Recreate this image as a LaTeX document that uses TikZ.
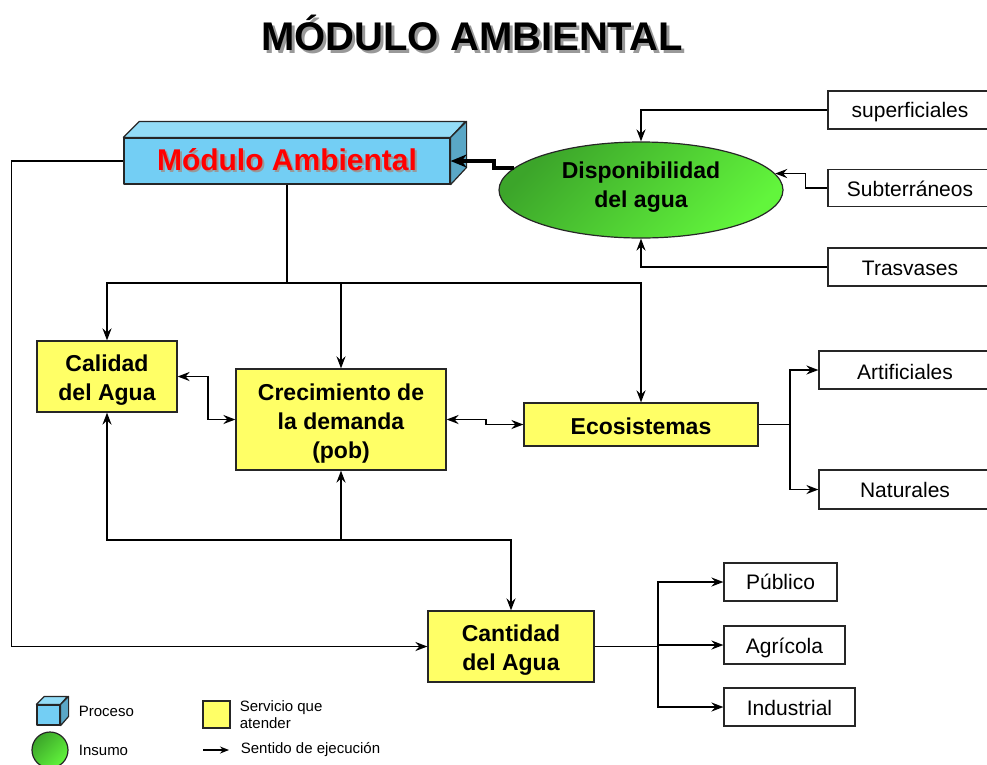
\documentclass[tikz,border=0pt]{standalone}
\usepackage{fontspec}
\setmainfont{Liberation Sans}
\usetikzlibrary{arrows.meta,shapes.geometric,calc}
\definecolor{yel}{HTML}{FFFF66}
\definecolor{bfront}{HTML}{73CEF4}
\definecolor{btop}{HTML}{93DCF7}
\definecolor{bside}{HTML}{5AA7C6}
\definecolor{gdark}{HTML}{3CA52A}
\definecolor{glight}{HTML}{62F53C}
\newcommand\shadowed[3]{\rlap{\kern#3\raisebox{-#3}{\color{black!40}#2}}{\color{#1}#2}}
\newcommand\shiftc[2]{\raisebox{#1}[\height][\depth]{\begin{tabular}{@{}c@{}}#2\end{tabular}}}
\begin{document}
\begin{tikzpicture}[x=1pt,y=-1pt,line width=1.8pt,
  ybox/.style={draw=black!85,fill=yel,line width=1.2pt,font=\bfseries\fontsize{23}{29}\selectfont,inner sep=0pt},
  wbox/.style={draw=black!85,fill=white,line width=1.2pt,font=\fontsize{21}{25}\selectfont,inner sep=0pt},
  tip/.tip={Stealth[length=12pt,width=9pt,inset=4pt]},
  bigtip/.tip={Stealth[length=16pt,width=13pt,inset=5pt]},
  arr/.style={-tip},
  darr/.style={tip-tip},
  face/.style={draw=black!85,line width=1.2pt,line join=round},
  legtext/.style={font=\fontsize{15}{17}\selectfont,anchor=west,align=left,inner sep=0pt}]
\useasboundingbox (0,0) rectangle (987,764);
% title
\node[font=\bfseries\fontsize{40}{48}\selectfont,anchor=base,inner sep=0pt] (title) at (472,50) {\shadowed{black}{MÓDULO AMBIENTAL}{3pt}};
% module box
\node[face,fill=bfront,minimum width=326pt,minimum height=46pt,inner sep=0pt,font=\bfseries\fontsize{30}{36}\selectfont] (mod) at (287,161) {\shadowed{red}{Módulo Ambiental}{2pt}};
\draw[face,fill=btop] (mod.north west) -- ++(16,-16) -- ++(326,0) -- (mod.north east) -- cycle;
\draw[face,fill=bside] (mod.north east) -- ++(16,-16) -- ++(0,46) -- (mod.south east) -- cycle;
% availability
\node[ellipse,draw=black!85,line width=1.2pt,top color=gdark,bottom color=glight,shading angle=45,minimum width=284pt,minimum height=96pt,inner sep=0pt,font=\bfseries\fontsize{23}{29}\selectfont] (dispo) at (641,190) {\shiftc{3pt}{Disponibilidad\\del agua}};
\node[wbox,minimum width=164pt,minimum height=38pt] (sup) at (910,110) {\shiftc{-2pt}{superficiales}};
\node[wbox,minimum width=164pt,minimum height=37pt] (sub) at (910,188) {\shiftc{-3.5pt}{Subterráneos}};
\node[wbox,minimum width=164pt,minimum height=38pt] (tra) at (910,267) {\shiftc{-3pt}{Trasvases}};
% services
\node[ybox,minimum width=140pt,minimum height=71pt] (cal) at (107,376.5) {\shiftc{-4pt}{Calidad\\del Agua}};
\node[ybox,minimum width=210pt,minimum height=101pt] (cre) at (341,419.5) {\shiftc{-4pt}{Crecimiento de\\la demanda\\(pob)}};
\node[ybox,minimum width=234pt,minimum height=43pt] (eco) at (641,424.5) {\shiftc{-4pt}{Ecosistemas}};
\node[ybox,minimum width=166pt,minimum height=71pt] (can) at (511,646.5) {\shiftc{-3.5pt}{Cantidad\\del Agua}};
\node[wbox,minimum width=172pt,minimum height=38pt] (art) at (905,370) {\shiftc{-4pt}{Artificiales}};
\node[wbox,minimum width=172pt,minimum height=39pt] (nat) at (905,489.5) {\shiftc{-3pt}{Naturales}};
\node[wbox,minimum width=113pt,minimum height=38pt] (pub) at (780.5,582) {\shiftc{-2.5pt}{Público}};
\node[wbox,minimum width=121pt,minimum height=38pt] (agr) at (784.5,645) {\shiftc{-3pt}{Agrícola}};
\node[wbox,minimum width=131pt,minimum height=38pt] (ind) at (789.5,707) {\shiftc{-3.5pt}{Industrial}};
% connectors to availability
\draw[arr] (sup.west) -| (dispo.north);
\draw[arr] (sub.west) -- ++(-22,0) |- (dispo.7);
\draw[arr] (tra.west) -| (dispo.south);
\draw[-bigtip,line width=4pt] (dispo.170) -- ++(-20,0) |- (mod.east);
% main tree
\coordinate (j1) at (287,283);
\draw (mod.south) -- (j1);
\draw[arr] (j1) -| (cal.north);
\draw[arr] (j1) -| (eco.north);
\draw[arr] (cre.north |- j1) -- (cre.north);
\draw[darr] (cal.east) -- ++(30,0) |- (cre.west);
\draw[darr] (cre.east) -- ++(39,0) |- (eco.west);
\coordinate (j2) at (790,424.5);
\draw (eco.east) -- (j2);
\draw[arr] (j2) |- (art.west);
\draw[arr] (j2) |- (nat.west);
\coordinate (j3) at (341,540);
\draw[arr] (j3) -- (cre.south);
\draw[arr] (j3) -| (cal.south);
\draw[arr] (j3) -| (can.north);
\draw[arr] (mod.west) -- ++(-112,0) |- (can.west);
\coordinate (j4) at (658,646.5);
\draw (can.east) -- (j4);
\draw[arr] (j4) |- (pub.west);
\draw[arr] (j4) |- (agr.west);
\draw[arr] (j4) |- (ind.west);
% legend
\node[face,fill=bfront,minimum width=23pt,minimum height=20pt,inner sep=0pt] (lcube) at (48.5,715) {};
\draw[face,fill=btop] (lcube.north west) -- ++(8,-8) -- ++(23,0) -- (lcube.north east) -- cycle;
\draw[face,fill=bside] (lcube.north east) -- ++(8,-8) -- ++(0,20) -- (lcube.south east) -- cycle;
\node[legtext] (lproc) at (78,711) {Proceso};
\node[circle,draw=black!85,line width=1.2pt,top color=gdark,bottom color=glight,shading angle=45,minimum size=36pt,inner sep=0pt] (lcirc) at (50,750) {};
\node[legtext] (lins) at (78,750) {Insumo};
\node[draw=black!85,fill=yel,line width=1.2pt,minimum size=27pt,inner sep=0pt] (lsq) at (216.5,714.5) {};
\node[legtext] (lserv) at (239,715) {Servicio que\\atender};
\coordinate (la1) at (203,750);
\coordinate (la2) at (229,750);
\draw[-{Stealth[length=9pt,width=7pt,inset=3pt]},line width=1.3pt] (la1) -- (la2);
\node[legtext] (lsent) at (240,750) {Sentido de ejecución};
\end{tikzpicture}
\end{document}
